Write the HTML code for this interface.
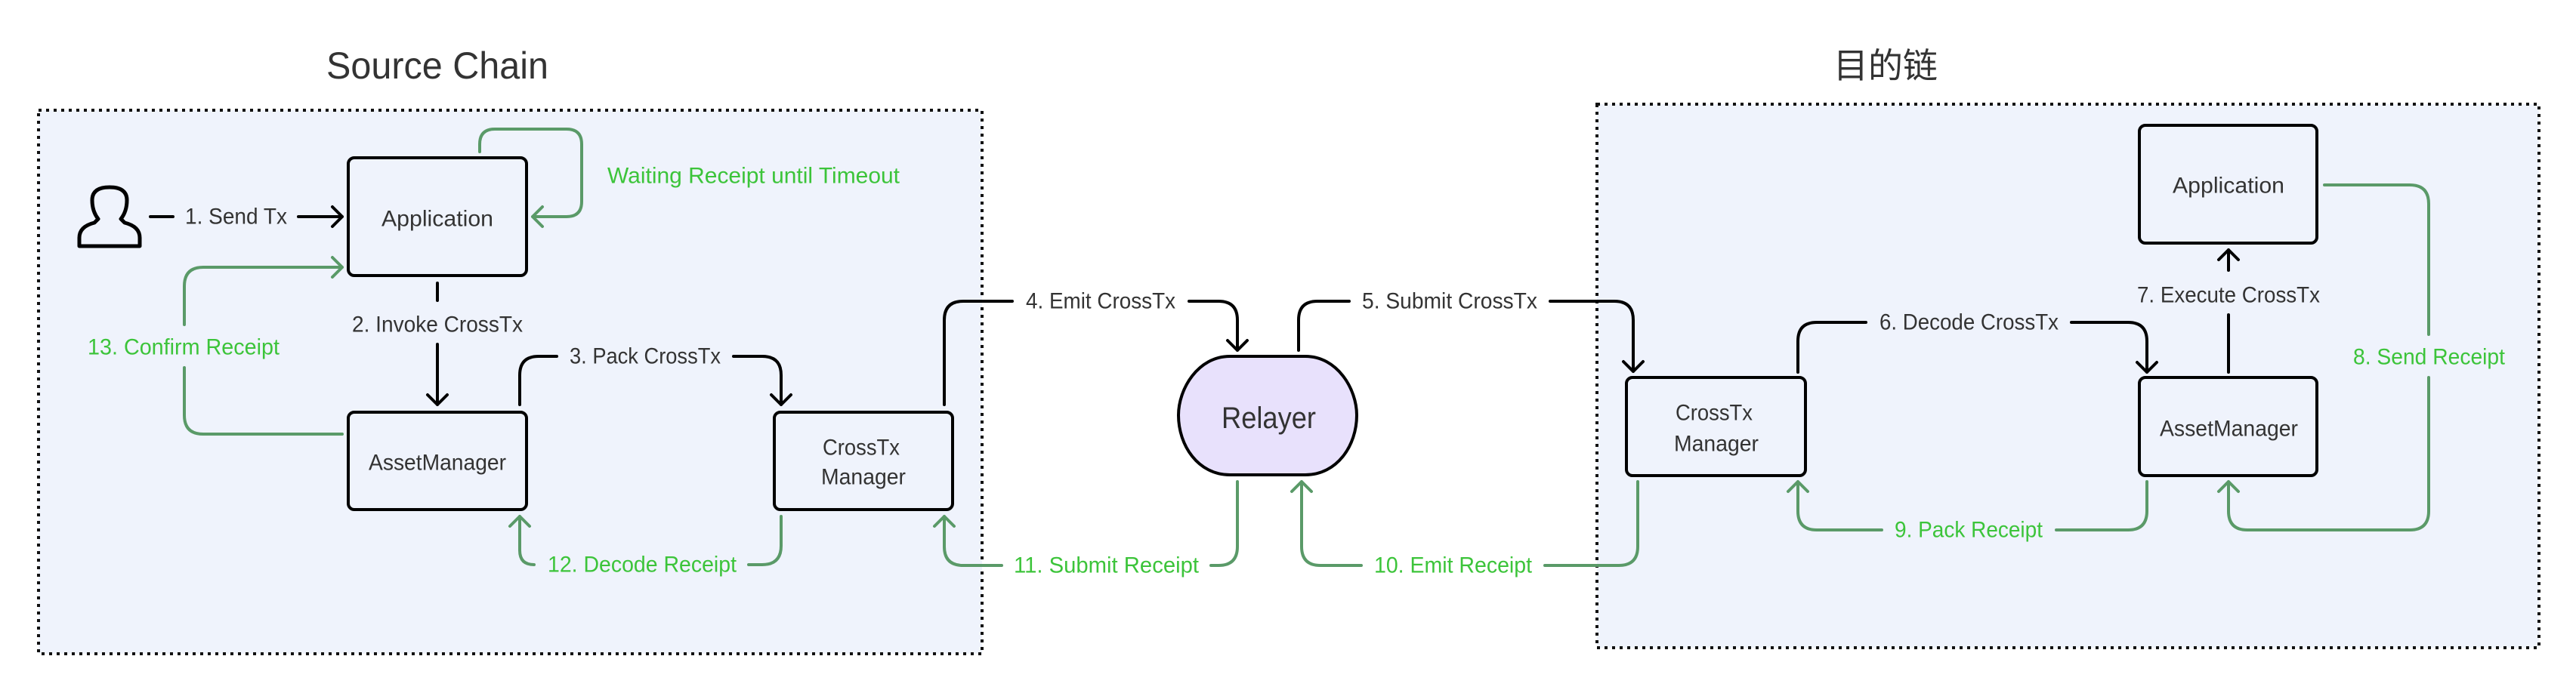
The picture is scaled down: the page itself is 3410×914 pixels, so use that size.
<!DOCTYPE html>
<html><head><meta charset="utf-8"><style>html,body{margin:0;padding:0;background:#fff}svg{display:block}</style></head>
<body>
<svg width="3410" height="914" viewBox="0 0 3410 914" xmlns="http://www.w3.org/2000/svg" font-family="'Liberation Sans','Noto Sans CJK SC',sans-serif">
<rect x="51" y="146" width="1249" height="720" fill="#eff3fc" stroke="#111" stroke-width="4" stroke-dasharray="4 6"/>
<rect x="2114" y="138" width="1247" height="720" fill="#eff3fc" stroke="#111" stroke-width="4" stroke-dasharray="4 6"/>
<g fill="#333" dominant-baseline="central">
<text x="432" y="87" font-size="50" textLength="294" lengthAdjust="spacingAndGlyphs">Source Chain</text>
<text x="2427" y="87" font-size="46" textLength="138" lengthAdjust="spacingAndGlyphs">目的链</text>
</g>
<g fill="#eff3fc" stroke="#000" stroke-width="4">
<rect x="461" y="209" width="236" height="156" rx="8"/>
<rect x="461" y="546" width="236" height="129" rx="8"/>
<rect x="1025" y="546" width="236" height="129" rx="8"/>
<rect x="2832" y="166" width="235" height="156" rx="8"/>
<rect x="2832" y="500" width="235" height="130" rx="8"/>
<rect x="2153" y="500" width="237" height="130" rx="8"/>
<path d="M1628,472 H1728 C1770,472 1796,515 1796,550 C1796,590 1770,629 1728,629 H1628 C1586,629 1560,590 1560,550 C1560,515 1586,472 1628,472 Z" fill="#e8e1fc"/>
</g>
<path d="M125,326 H185 V315 Q185,300 165,295 L160,290 Q168,280 168,265 Q168,248 145,248 Q122,248 122,265 Q122,280 130,290 L125,295 Q105,300 105,315 V326 Z" fill="none" stroke="#000" stroke-width="5" stroke-linejoin="round"/>
<g fill="none" stroke="#000" stroke-width="4" stroke-linecap="round" stroke-linejoin="round">
<path d="M199,287 H229 M395,287 H453 M440,274 L453,287 L440,300"/>
<path d="M579,375 V398 M579,456 V536 M566,523 L579,536 L592,523"/>
<path d="M688,536 V497 Q688,472 713,472 H737 M971,472 H1009 Q1034,472 1034,497 V536 M1021,523 L1034,536 L1047,523"/>
<path d="M1250,536 V424 Q1250,399 1275,399 H1340 M1574,399 H1613 Q1638,399 1638,424 V464 M1625,451 L1638,464 L1651,451"/>
<path d="M1719,464 V424 Q1719,399 1744,399 H1786 M2052,399 H2137 Q2162,399 2162,424 V492 M2149,479 L2162,492 L2175,479"/>
<path d="M2380,493 V452 Q2380,427 2405,427 H2470 M2742,427 H2817 Q2842,427 2842,452 V493 M2829,480 L2842,493 L2855,480"/>
<path d="M2950,493 V417 M2950,358 V331 M2937,344 L2950,331 L2963,344"/>
</g>
<g fill="none" stroke="#5a9a68" stroke-width="4" stroke-linecap="round" stroke-linejoin="round">
<path d="M635,201 V191 Q635,171 655,171 H750 Q770,171 770,191 V267 Q770,287 750,287 H705 M718,274 L705,287 L718,300"/>
<path d="M453,575 H269 Q244,575 244,550 V487 M244,430 V379 Q244,354 269,354 H453 M440,341 L453,354 L440,367"/>
<path d="M1034,684 V723 Q1034,748 1009,748 H991 M707,748 Q688,748 688,729 V684 M675,697 L688,684 L701,697"/>
<path d="M1638,638 V724 Q1638,749 1613,749 H1603 M1326,749 H1275 Q1250,749 1250,724 V684 M1237,697 L1250,684 L1263,697"/>
<path d="M2168,638 V724 Q2168,749 2143,749 H2045 M1802,749 H1748 Q1723,749 1723,724 V638 M1710,651 L1723,638 L1736,651"/>
<path d="M3077,245 H3190 Q3215,245 3215,270 V443 M3215,500 V677 Q3215,702 3190,702 H2975 Q2950,702 2950,677 V638 M2937,651 L2950,638 L2963,651"/>
<path d="M2842,638 V677 Q2842,702 2817,702 H2722 M2491,702 H2405 Q2380,702 2380,677 V638 M2367,651 L2380,638 L2393,651"/>
</g>
<g fill="#333" font-size="30" dominant-baseline="central" lengthAdjust="spacingAndGlyphs">
<text x="245" y="287" textLength="135" lengthAdjust="spacingAndGlyphs">1. Send Tx</text>
<text x="466" y="430" textLength="226" lengthAdjust="spacingAndGlyphs">2. Invoke CrossTx</text>
<text x="754" y="472" textLength="200" lengthAdjust="spacingAndGlyphs">3. Pack CrossTx</text>
<text x="1358" y="399" textLength="198" lengthAdjust="spacingAndGlyphs">4. Emit CrossTx</text>
<text x="1803" y="399" textLength="232" lengthAdjust="spacingAndGlyphs">5. Submit CrossTx</text>
<text x="2488" y="427" textLength="237" lengthAdjust="spacingAndGlyphs">6. Decode CrossTx</text>
<text x="2829" y="391" textLength="242" lengthAdjust="spacingAndGlyphs">7. Execute CrossTx</text>
<text x="505" y="290" textLength="148" lengthAdjust="spacingAndGlyphs">Application</text>
<text x="488" y="613" textLength="182" lengthAdjust="spacingAndGlyphs">AssetManager</text>
<text x="1089" y="593" textLength="102" lengthAdjust="spacingAndGlyphs">CrossTx</text>
<text x="1087" y="632" textLength="112" lengthAdjust="spacingAndGlyphs">Manager</text>
<text x="2876" y="246" textLength="148" lengthAdjust="spacingAndGlyphs">Application</text>
<text x="2859" y="568" textLength="183" lengthAdjust="spacingAndGlyphs">AssetManager</text>
<text x="2218" y="547" textLength="102" lengthAdjust="spacingAndGlyphs">CrossTx</text>
<text x="2216" y="588" textLength="112" lengthAdjust="spacingAndGlyphs">Manager</text>
<text x="1617" y="554" font-size="40" textLength="125" lengthAdjust="spacingAndGlyphs">Relayer</text>
</g>
<g fill="#3cc43a" font-size="30" dominant-baseline="central">
<text x="804" y="233" textLength="387" lengthAdjust="spacingAndGlyphs">Waiting Receipt until Timeout</text>
<text x="116" y="460" textLength="254" lengthAdjust="spacingAndGlyphs">13. Confirm Receipt</text>
<text x="725" y="748" textLength="250" lengthAdjust="spacingAndGlyphs">12. Decode Receipt</text>
<text x="1342" y="749" textLength="245" lengthAdjust="spacingAndGlyphs">11. Submit Receipt</text>
<text x="1819" y="749" textLength="209" lengthAdjust="spacingAndGlyphs">10. Emit Receipt</text>
<text x="3115" y="473" textLength="201" lengthAdjust="spacingAndGlyphs">8. Send Receipt</text>
<text x="2508" y="702" textLength="196" lengthAdjust="spacingAndGlyphs">9. Pack Receipt</text>
</g>
</svg>
</body></html>
